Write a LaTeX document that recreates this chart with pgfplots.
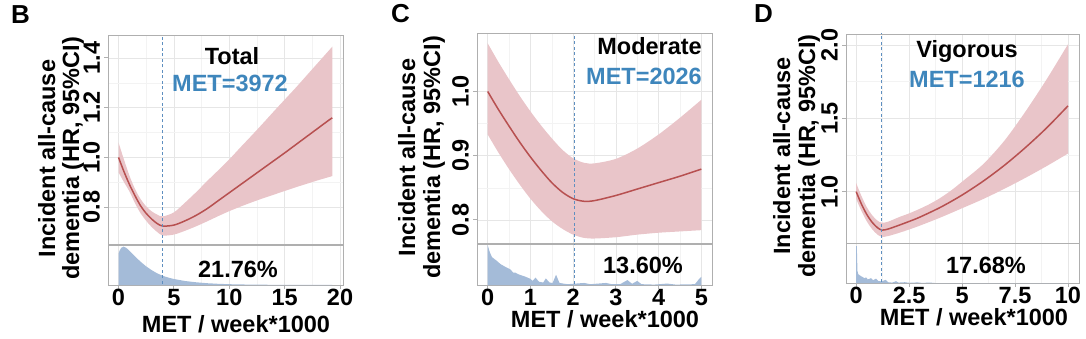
\documentclass[border=0pt]{standalone}
\usepackage{fontspec}
\setmainfont{Liberation Sans}
\usepackage{pgfplots}
\pgfplotsset{compat=1.18}
\usepgfplotslibrary{fillbetween}
\definecolor{band}{RGB}{233,197,201}
\definecolor{hrline}{RGB}{183,80,80}
\definecolor{dens}{RGB}{164,187,216}
\definecolor{metblue}{RGB}{62,134,188}
\definecolor{vline}{RGB}{94,143,192}
\definecolor{framec}{RGB}{175,175,175}
\definecolor{gridc}{RGB}{230,230,230}
\definecolor{gridm}{RGB}{243,243,243}
\newcommand\ff{\fontsize{23.5}{25}\selectfont\bfseries}
\pgfplotsset{
 rcs/.style={scale only axis, anchor=south west,
   axis line style={framec, line width=0.8pt},
   tick style={framec, line width=0.8pt}, major tick length=4pt, minor tick length=0pt,
   tick align=outside, ticklabel style={font=\ff},
   grid=both, major grid style={gridc, line width=0.7pt}, minor grid style={gridm, line width=0.5pt},
   minor tick num=1},
 mainax/.style={rcs, xmajorticks=false, ytick pos=left,
   yticklabel style={rotate=90, anchor=south, inner sep=0pt}, yticklabel shift=4pt},
 densax/.style={rcs, ymajorticks=false, yminorticks=false, ymin=0, ymax=1.0, xtick pos=left,
   xticklabel style={anchor=north, inner sep=0pt}, xticklabel shift=0pt,
   ymajorgrids=false, yminorgrids=false},
 hr/.style={hrline, line width=1.5pt, smooth},
 vl/.style={vline, dash pattern=on 3pt off 2.5pt, line width=0.9pt},
}
\begin{document}
\begin{tikzpicture}
% ---------------- B ----------------
\begin{axis}[mainax, at={(108pt,94pt)}, width=235pt, height=209pt,
  xmin=-0.95, xmax=20.27, ymin=0.652, ymax=1.492,
  xtick={0,5,10,15,20}, ytick={0.8,1.0,1.2,1.4}, yticklabels={0.8,1.0,1.2,1.4}]
\addplot[name path=U, draw=none, smooth] coordinates {(0,1.06) (0.5,0.99) (1,0.925) (1.5,0.872) (2,0.832) (2.5,0.803) (3,0.783) (3.5,0.77) (4,0.763) (5,0.779) (6,0.818) (7,0.86) (8,0.905) (9,0.948) (10,0.992) (11,1.04) (12,1.087) (13,1.135) (14,1.184) (15,1.232) (16,1.28) (17,1.33) (18,1.38) (19,1.43) (19.3,1.445)};
\addplot[name path=L, draw=none, smooth] coordinates {(0,0.94) (0.5,0.90) (1,0.862) (1.5,0.815) (2,0.775) (2.5,0.745) (3,0.72) (3.5,0.70) (4,0.686) (5,0.69) (6,0.705) (7,0.723) (8,0.743) (9,0.764) (10,0.784) (11,0.802) (12,0.819) (13,0.835) (14,0.85) (15,0.865) (16,0.88) (17,0.894) (18,0.908) (19,0.921) (19.3,0.925)};
\addplot[band, draw=none] fill between[of=U and L];
\addplot[hr] coordinates {(0,1.0) (0.5,0.942) (1,0.89) (1.5,0.845) (2,0.805) (2.5,0.775) (3,0.752) (3.5,0.734) (4,0.724) (5,0.728) (6,0.745) (7,0.767) (8,0.794) (9,0.826) (10,0.858) (11,0.89) (12,0.922) (13,0.954) (14,0.986) (15,1.018) (16,1.051) (17,1.084) (18,1.117) (19,1.15) (19.3,1.159)};
\addplot[vl] coordinates {(3.972,0.5) (3.972,1.6)};
\end{axis}
\begin{axis}[densax, at={(108pt,53pt)}, width=235pt, height=40pt,
  xmin=-0.95, xmax=20.27, xtick={0,5,10,15,20}, xticklabels={0,5,10,15,20}]
\addplot[fill=dens, draw=none] coordinates {(0,0) (0,0.78) (0.1,0.86) (0.25,0.93) (0.45,0.96) (0.7,0.93) (1.0,0.85) (1.5,0.71) (2.0,0.58) (2.5,0.465) (3.0,0.37) (3.5,0.29) (4.0,0.23) (4.5,0.185) (5,0.15) (6,0.1) (7,0.068) (8,0.045) (9,0.03) (10,0.02) (11,0.014) (12,0.01) (13,0.007) (15,0.004) (17,0.002) (19.3,0.001) (19.3,0)};
\addplot[vl] coordinates {(3.972,-0.1) (3.972,1.1)};
\end{axis}
% ---------------- C ----------------
\begin{axis}[mainax, at={(477pt,95pt)}, width=235pt, height=210pt,
  xmin=-0.25, xmax=5.25, ymin=0.764, ymax=1.091,
  xtick={0,1,2,3,4,5}, ytick={0.8,0.9,1.0}, yticklabels={0.8,0.9,1.0}]
\addplot[name path=U, draw=none, smooth] coordinates {(0,1.075) (0.25,1.046) (0.5,1.019) (0.75,0.993) (1,0.969) (1.25,0.947) (1.5,0.927) (1.75,0.909) (2,0.896) (2.25,0.889) (2.5,0.888) (3,0.895) (3.5,0.911) (4,0.933) (4.5,0.959) (5,0.987)};
\addplot[name path=L, draw=none, smooth] coordinates {(0,0.933) (0.25,0.905) (0.5,0.879) (0.75,0.855) (1,0.833) (1.25,0.814) (1.5,0.798) (1.75,0.786) (2,0.777) (2.25,0.772) (2.5,0.771) (3,0.773) (3.5,0.777) (4,0.78) (4.5,0.782) (5,0.784)};
\addplot[band, draw=none] fill between[of=U and L];
\addplot[hr] coordinates {(0,1.0) (0.25,0.972) (0.5,0.946) (0.75,0.921) (1,0.898) (1.25,0.877) (1.5,0.858) (1.75,0.843) (2,0.833) (2.25,0.829) (2.5,0.83) (3,0.838) (3.5,0.848) (4,0.858) (4.5,0.868) (5,0.879)};
\addplot[vl] coordinates {(2.026,0.5) (2.026,1.2)};
\end{axis}
\begin{axis}[densax, at={(477pt,53pt)}, width=235pt, height=41pt,
  xmin=-0.25, xmax=5.25, xtick={0,1,2,3,4,5}, xticklabels={0,1,2,3,4,5}]
\addplot[fill=dens, draw=none] coordinates {(0,0) (0,0.97) (0.05,0.8) (0.1,0.68) (0.2,0.6) (0.3,0.51) (0.4,0.45) (0.53,0.38) (0.6,0.3) (0.65,0.3) (0.7,0.27) (0.75,0.25) (0.89,0.2) (1.0,0.15) (1.05,0.1) (1.12,0.18) (1.2,0.08) (1.3,0.06) (1.36,0.16) (1.45,0.06) (1.52,0.05) (1.6,0.25) (1.68,0.05) (1.8,0.03) (1.87,0.02) (2.0,0.03) (2.26,0.05) (2.4,0.02) (2.77,0.05) (2.9,0.02) (3.1,0.02) (3.27,0.12) (3.38,0.03) (3.5,0.1) (3.6,0.02) (3.9,0.01) (4.2,0.035) (4.4,0.01) (4.85,0.02) (4.95,0.15) (5.0,0.2) (5.0,0)};
\addplot[vl] coordinates {(2.026,-0.1) (2.026,1.1)};
\end{axis}
% ---------------- D ----------------
\begin{axis}[mainax, at={(846pt,95pt)}, width=233pt, height=209pt,
  xmin=-0.48, xmax=10.52, ymin=0.65, ymax=2.075,
  xtick={0,2.5,5,7.5,10}, ytick={1.0,1.5,2.0}, yticklabels={1.0,1.5,2.0}]
\addplot[name path=U, draw=none, smooth] coordinates {(0,1.058) (0.25,0.97) (0.5,0.895) (0.75,0.84) (1,0.803) (1.216,0.788) (1.5,0.795) (2,0.825) (2.5,0.852) (3,0.883) (3.5,0.918) (4,0.96) (4.5,1.01) (5,1.068) (6,1.188) (7,1.348) (8,1.548) (9,1.768) (10,2.005)};
\addplot[name path=L, draw=none, smooth] coordinates {(0,0.95) (0.25,0.868) (0.5,0.798) (0.75,0.745) (1,0.708) (1.216,0.692) (1.5,0.697) (2,0.718) (2.5,0.742) (3,0.768) (4,0.825) (5,0.887) (6,0.95) (7,1.02) (8,1.095) (9,1.175) (10,1.26)};
\addplot[band, draw=none] fill between[of=U and L];
\addplot[hr] coordinates {(0,1.0) (0.25,0.915) (0.5,0.845) (0.75,0.792) (1,0.755) (1.216,0.738) (1.5,0.745) (2,0.77) (2.5,0.797) (3,0.826) (4,0.895) (5,0.977) (6,1.072) (7,1.18) (8,1.302) (9,1.436) (10,1.585)};
\addplot[vl] coordinates {(1.216,0.5) (1.216,2.2)};
\end{axis}
\begin{axis}[densax, at={(846pt,55pt)}, width=233pt, height=40pt,
  xmin=-0.48, xmax=10.52, xtick={0,2.5,5,7.5,10}, xticklabels={0,2.5,5,7.5,10}]
\addplot[fill=dens, draw=none] coordinates {(0,0) (0,0.92) (0.03,0.92) (0.06,0.3) (0.1,0.22) (0.2,0.18) (0.3,0.15) (0.4,0.12) (0.47,0.14) (0.55,0.09) (0.7,0.12) (0.8,0.07) (0.94,0.11) (1.05,0.05) (1.2,0.04) (1.4,0.08) (1.5,0.02) (1.7,0.01) (1.88,0.045) (2.0,0.01) (2.3,0.02) (2.5,0.005) (2.9,0.015) (3.1,0.003) (3.5,0.01) (3.7,0) (10.05,0)};
\addplot[vl] coordinates {(1.216,-0.1) (1.216,1.1)};
\end{axis}
% ---------------- texts ----------------
\begin{scope}[x=1pt, y=1pt, every node/.style={inner sep=0pt, font=\ff}]
\node[anchor=base west, font=\fontsize{26}{28}\selectfont\bfseries] at (11,314) {B};
\node[anchor=base west, font=\fontsize{26}{28}\selectfont\bfseries] at (391,315) {C};
\node[anchor=base west, font=\fontsize{26}{28}\selectfont\bfseries] at (754,315) {D};
\node[anchor=base, rotate=90] at (55,179.5) {Incident all-cause};
\node[anchor=base, rotate=90] at (79,179.5) {dementia (HR, 95\%CI)};
\node[anchor=base, rotate=90] at (415,180.5) {Incident all-cause};
\node[anchor=base, rotate=90] at (440,180.5) {dementia (HR, 95\%CI)};
\node[anchor=base, rotate=90] at (790,182) {Incident all-cause};
\node[anchor=base, rotate=90] at (815,182) {dementia (HR, 95\%CI)};
\node[anchor=base] at (236,6) {MET / week*1000};
\node[anchor=base] at (605,11) {MET / week*1000};
\node[anchor=base] at (974,13) {MET / week*1000};
\node[anchor=base] at (232,273) {Total};
\node[anchor=base, text=metblue] at (230,246) {MET=3972};
\node[anchor=base] at (238,61) {21.76\%};
\node[anchor=base east] at (702,283) {Moderate};
\node[anchor=base east, text=metblue] at (702,253) {MET=2026};
\node[anchor=base] at (643,65) {13.60\%};
\node[anchor=base] at (967,280) {Vigorous};
\node[anchor=base, text=metblue] at (967,250) {MET=1216};
\node[anchor=base] at (986,65) {17.68\%};
\pgfresetboundingbox
\useasboundingbox (0,0) rectangle (1086,338);
\end{scope}
\end{tikzpicture}
\end{document}
